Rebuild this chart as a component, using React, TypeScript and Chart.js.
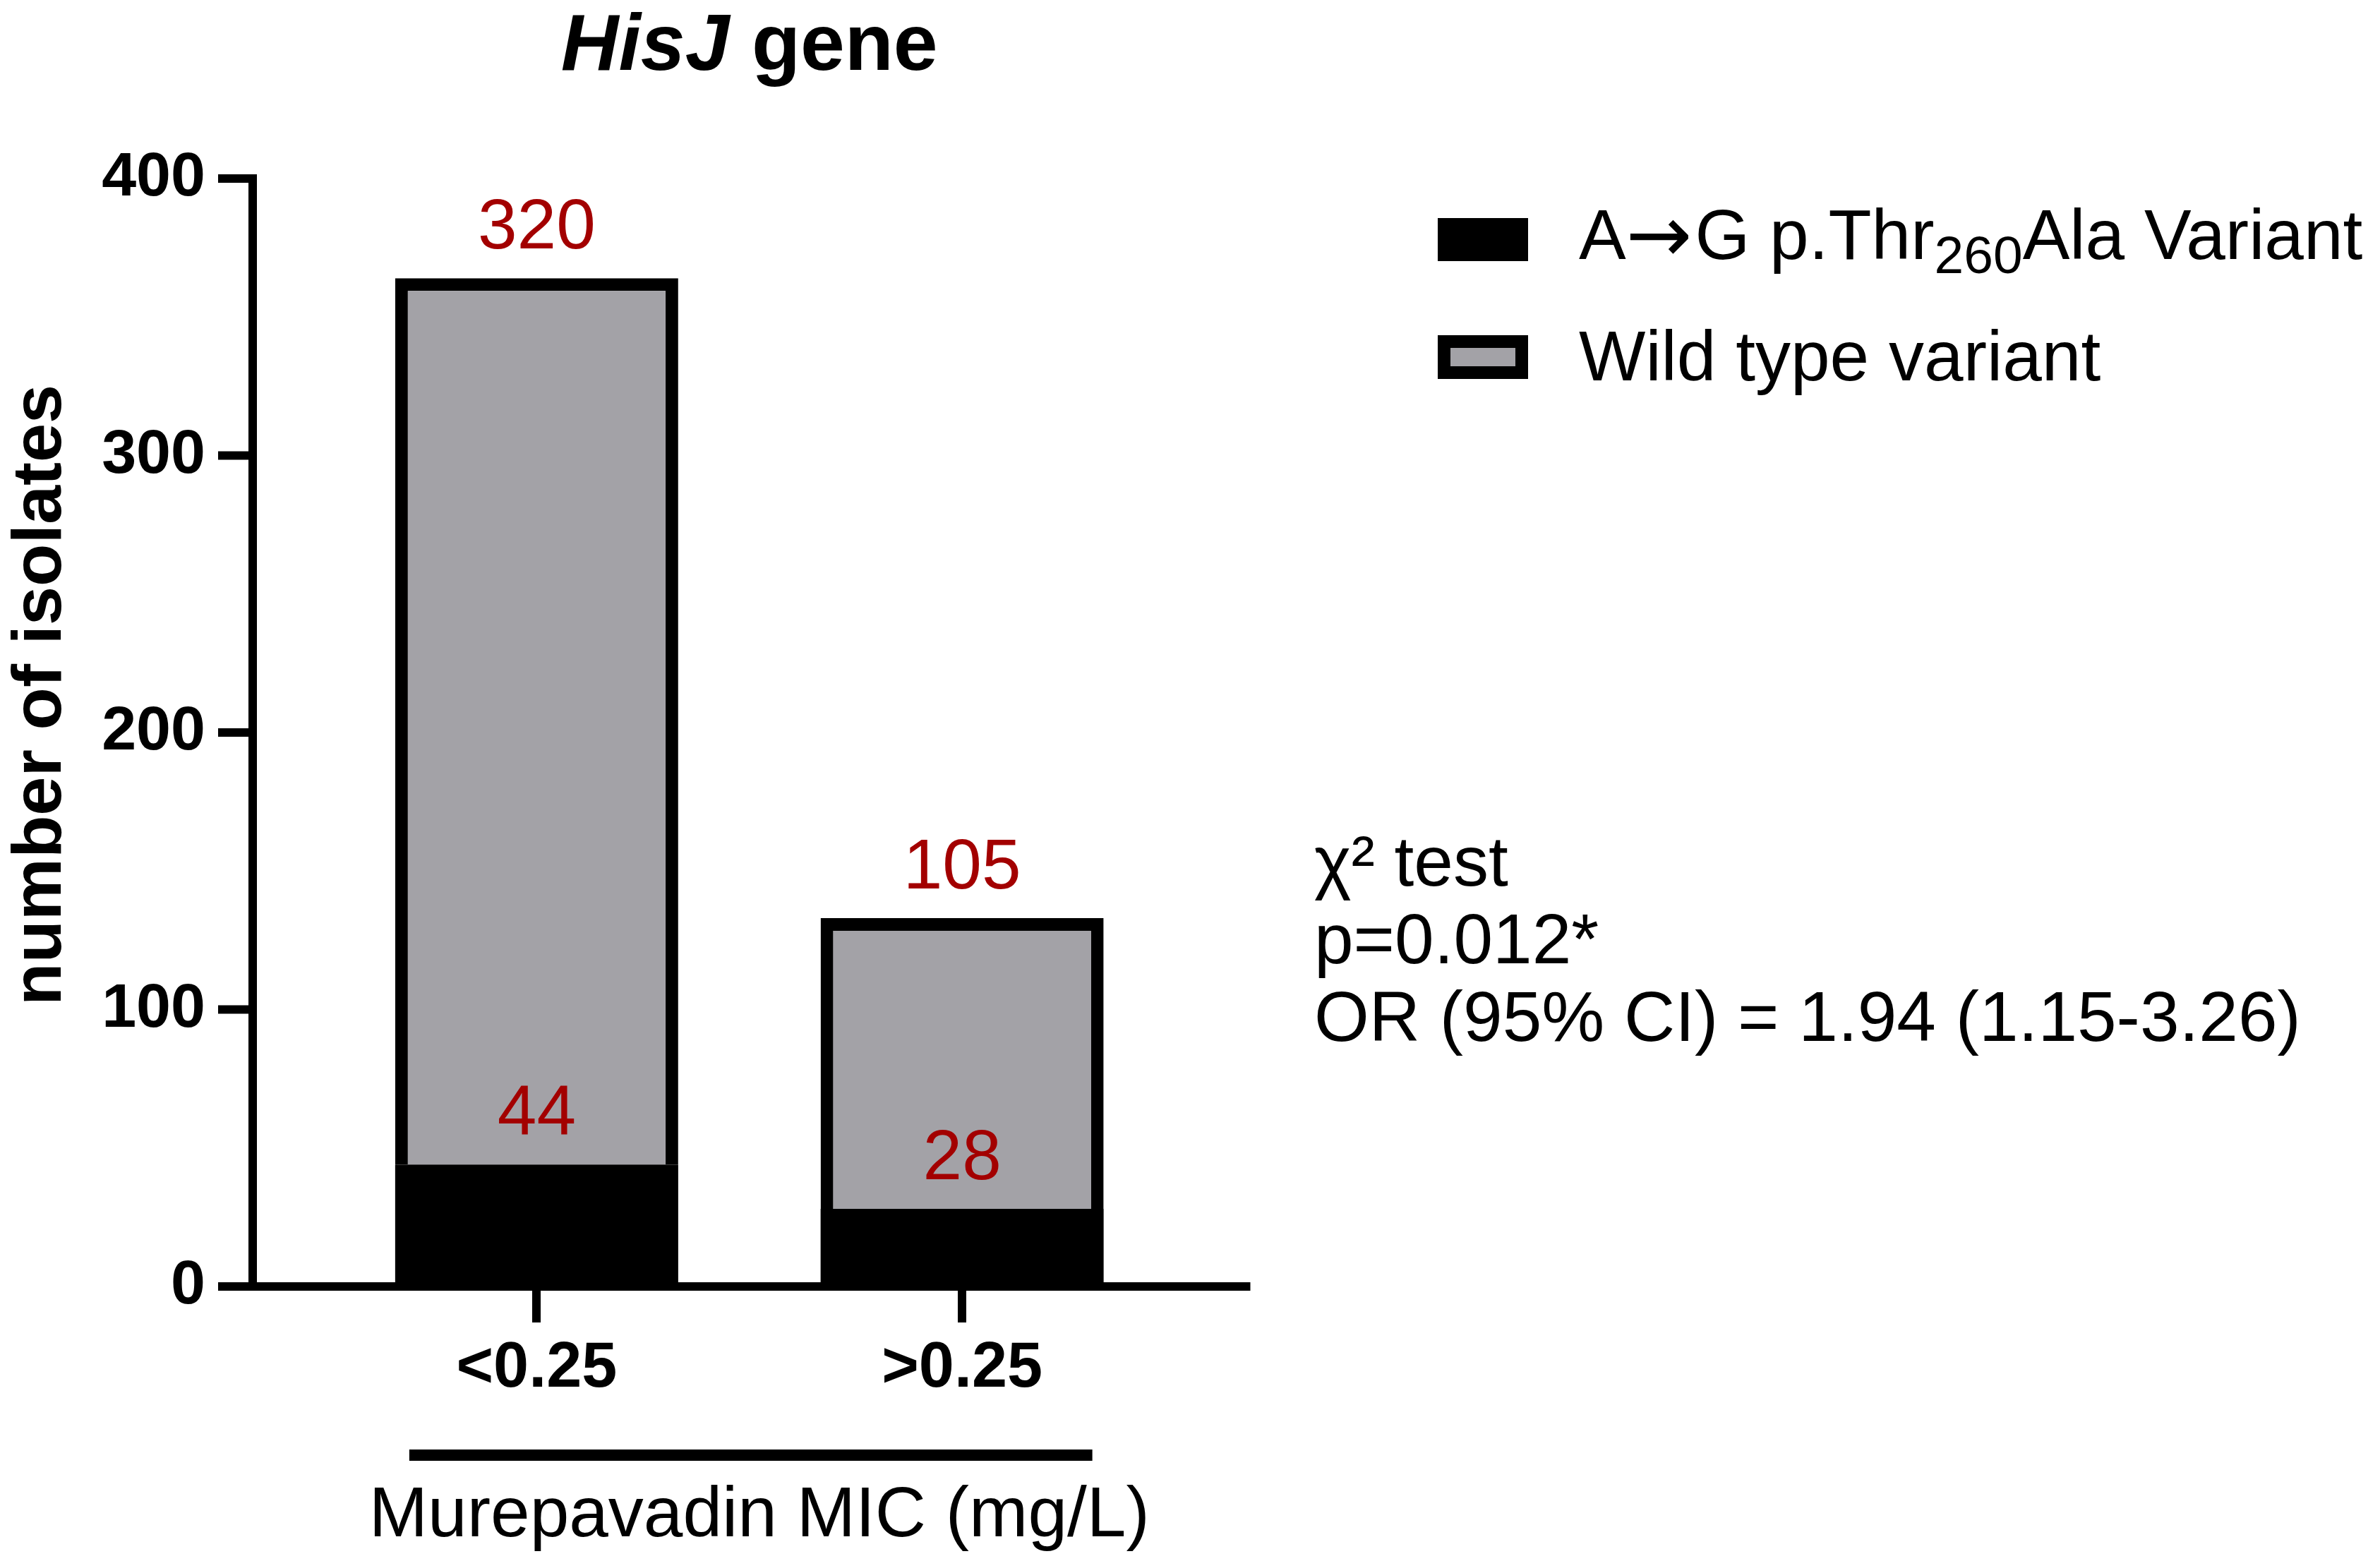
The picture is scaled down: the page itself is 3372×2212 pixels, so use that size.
import { useEffect, useRef } from "react";
import { Chart, registerables, Plugin } from "chart.js";

Chart.register(...registerables);

// data
const micGroups = ["<0.25", ">0.25"];
const variantCounts = [44, 28];
const wildTypeCounts = [320, 105];
const yTickValues = [0, 100, 200, 300, 400];
const variantLabelParts = ["A", "\u2192", "G p.Thr", "260", "Ala Variant"];
const wildTypeLabel = "Wild type variant";
const statsLines = ["\u03c7\u00b2 test", "p=0.012*", "OR (95% CI) = 1.94 (1.15-3.26)"];

const FONT = '"Liberation Sans", Arial, Helvetica, sans-serif';
const RED = "#a30000";
const GREY = "#a3a2a7";
const W = 3372;
const H = 2212;

const decorPlugin: Plugin<"bar"> = {
  id: "decor",
  afterDraw(chart) {
    const { ctx, chartArea, scales } = chart;
    const y = scales.y;
    const y0 = y.getPixelForValue(0);
    const yTop = y.getPixelForValue(yTickValues[yTickValues.length - 1]);
    const axisX = chartArea.left - 101;
    const tickStart = axisX - 49;
    const midX = (chartArea.left + chartArea.right) / 2;

    ctx.save();
    ctx.strokeStyle = "#000";
    ctx.fillStyle = "#000";
    ctx.lineCap = "butt";
    ctx.lineWidth = 12;

    // y axis line + ticks
    ctx.beginPath();
    ctx.moveTo(axisX, yTop - 6);
    ctx.lineTo(axisX, y0 + 6);
    ctx.stroke();
    y.ticks.forEach((t) => {
      const py = y.getPixelForValue(t.value);
      ctx.beginPath();
      ctx.moveTo(tickStart, py);
      ctx.lineTo(axisX + 6, py);
      ctx.stroke();
    });

    // x axis line
    ctx.beginPath();
    ctx.moveTo(tickStart, y0);
    ctx.lineTo(chartArea.right + 107, y0);
    ctx.stroke();

    // value labels
    ctx.fillStyle = RED;
    ctx.font = `100px ${FONT}`;
    ctx.textAlign = "center";
    ctx.textBaseline = "middle";
    chart.data.datasets.forEach((ds, di) => {
      const meta = chart.getDatasetMeta(di);
      meta.data.forEach((bar, i) => {
        ctx.fillText(String(ds.data[i]), bar.x, bar.y - 70);
      });
    });

    // title
    ctx.fillStyle = "#000";
    ctx.textBaseline = "alphabetic";
    ctx.textAlign = "left";
    ctx.font = `italic bold 113px ${FONT}`;
    const w1 = ctx.measureText("HisJ").width;
    ctx.font = `bold 113px ${FONT}`;
    const w2 = ctx.measureText(" gene").width;
    const tx = midX - (w1 + w2) / 2;
    ctx.font = `italic bold 113px ${FONT}`;
    ctx.fillText("HisJ", tx, 99);
    ctx.font = `bold 113px ${FONT}`;
    ctx.fillText(" gene", tx + w1, 99);

    // y axis title
    ctx.save();
    ctx.translate(86, 985);
    ctx.rotate(-Math.PI / 2);
    ctx.textAlign = "center";
    ctx.font = `bold 99px ${FONT}`;
    ctx.fillText("number of isolates", 0, 0);
    ctx.restore();

    // bracket under categories
    const bars = chart.getDatasetMeta(0).data as any[];
    const first = bars[0];
    const last = bars[bars.length - 1];
    ctx.lineWidth = 16;
    ctx.beginPath();
    ctx.moveTo(first.x - first.width / 2 + 20, 2062);
    ctx.lineTo(last.x + last.width / 2 - 16, 2062);
    ctx.stroke();

    // x axis title
    ctx.textAlign = "center";
    ctx.font = `100px ${FONT}`;
    ctx.fillText("Murepavadin MIC (mg/L)", midX + 14, 2177);

    // legend
    const boxX = 2037;
    const boxW = 128;
    ctx.fillStyle = chart.data.datasets[0].backgroundColor as string;
    ctx.fillRect(boxX, 309, boxW, 61);
    ctx.fillStyle = "#000";
    ctx.fillRect(boxX, 475, boxW, 62);
    ctx.fillStyle = chart.data.datasets[1].backgroundColor as string;
    ctx.fillRect(boxX + 18, 493, boxW - 36, 26);

    ctx.fillStyle = "#000";
    ctx.textAlign = "left";
    let lx = 2237;
    variantLabelParts.forEach((part) => {
      const sub = part === "260";
      const arrow = part === "\u2192";
      if (sub) ctx.font = `75px ${FONT}`;
      else if (arrow) ctx.font = `112px "DejaVu Sans", ${FONT}`;
      else ctx.font = `100px ${FONT}`;
      ctx.fillText(part, lx, sub ? 387 : arrow ? 371 : 367);
      lx += ctx.measureText(part).width + (arrow ? 4 : 0);
    });
    ctx.font = `100px ${FONT}`;
    ctx.fillText(wildTypeLabel, 2237, 539);

    // statistics
    statsLines.forEach((line, i) => {
      ctx.fillText(line, 1862, 1255 + i * 110);
    });

    ctx.restore();
  },
};

function HisJChart() {
  const canvasRef = useRef<HTMLCanvasElement | null>(null);
  const chartRef = useRef<Chart<"bar"> | null>(null);

  useEffect(() => {
    if (!canvasRef.current) return;
    const ctx = canvasRef.current.getContext("2d");
    if (!ctx) return;
    if (chartRef.current) chartRef.current.destroy();

    chartRef.current = new Chart(ctx, {
      type: "bar",
      data: {
        labels: micGroups,
        datasets: [
          {
            label: variantLabelParts.join(""),
            data: variantCounts,
            backgroundColor: "#000000",
            borderWidth: 0,
            stack: "mic",
            categoryPercentage: 0.6653,
            barPercentage: 1,
          },
          {
            label: wildTypeLabel,
            data: wildTypeCounts,
            backgroundColor: GREY,
            borderColor: "#000000",
            borderWidth: 18,
            borderSkipped: "bottom",
            stack: "mic",
            categoryPercentage: 0.6653,
            barPercentage: 1,
          },
        ],
      },
      options: {
        responsive: true,
        maintainAspectRatio: false,
        animation: false,
        layout: { padding: { top: 253, right: 1707.5, bottom: 0, left: 0 } },
        plugins: {
          legend: { display: false },
          tooltip: { enabled: false },
          title: { display: false },
        },
        scales: {
          x: {
            stacked: true,
            offset: true,
            border: { display: false },
            grid: {
              display: true,
              drawOnChartArea: false,
              drawTicks: true,
              tickLength: 51,
              lineWidth: 12,
              color: "#000",
              offset: false,
            },
            ticks: {
              color: "#000",
              padding: 12,
              font: { family: FONT, size: 90, weight: "bold" },
            },
            afterFit: (scale) => {
              scale.height = H - 1823;
            },
          },
          y: {
            stacked: true,
            min: 0,
            max: 400,
            border: { display: false },
            grid: { display: false, drawTicks: false },
            ticks: {
              color: "#000",
              padding: 168,
              font: { family: FONT, size: 88, weight: "bold" },
            },
            afterBuildTicks: (scale) => {
              scale.ticks = yTickValues.map((v) => ({ value: v }));
            },
            afterFit: (scale) => {
              scale.width = 459;
            },
          },
        },
      },
      plugins: [decorPlugin],
    });

    return () => {
      if (chartRef.current) {
        chartRef.current.destroy();
        chartRef.current = null;
      }
    };
  }, []);

  return (
    <div
      style={{
        position: "fixed",
        left: 0,
        top: 0,
        width: W,
        height: H,
        background: "#fff",
      }}
    >
      <canvas ref={canvasRef} />
    </div>
  );
}

export default function App() {
  return <HisJChart />;
}
